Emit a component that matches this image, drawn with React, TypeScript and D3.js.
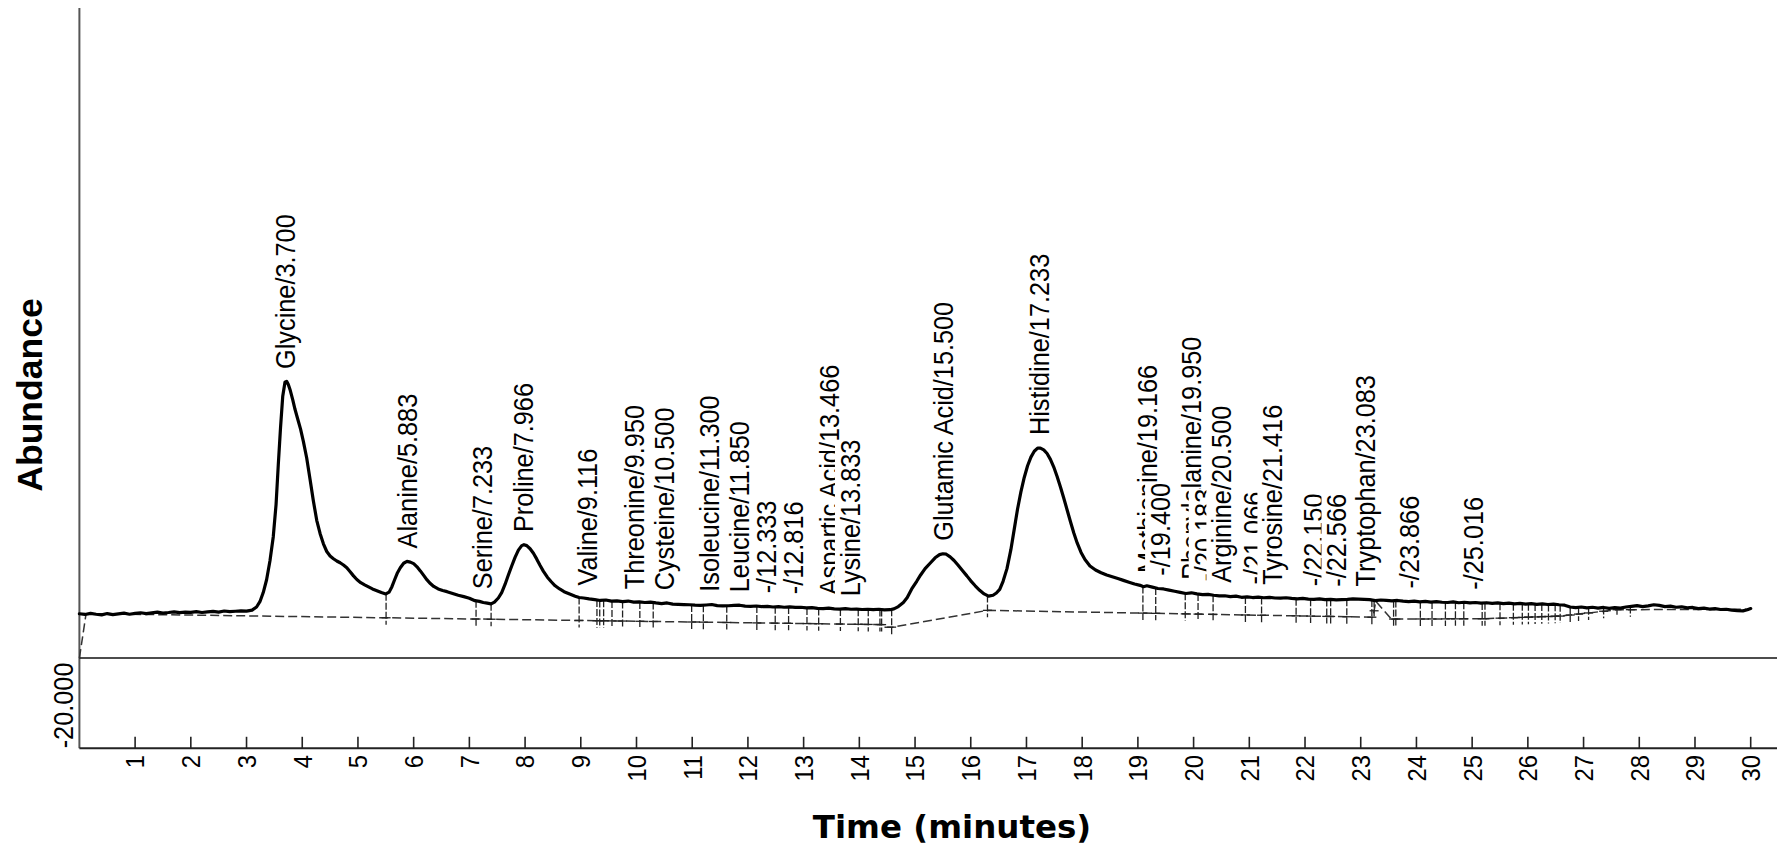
import React, { useEffect, useRef } from "react";
import * as d3 from "d3";

const WIDTH = 1779;
const HEIGHT = 860;

// Detector trace: retention time (min) and abundance
const retentionTime = [
  0.0, 0.1, 0.2, 0.3, 0.4, 0.5, 0.6, 0.7, 0.8, 0.9, 1.0, 1.1, 1.2, 1.3, 1.4, 1.5, 1.6, 1.7, 1.8, 1.9,
  2.0, 2.1, 2.2, 2.3, 2.4, 2.5, 2.6, 2.7, 2.8, 2.9, 3.0, 3.1,
  3.18, 3.24, 3.3, 3.36, 3.42, 3.48, 3.53, 3.57, 3.61, 3.65, 3.69, 3.72, 3.75, 3.78, 3.83, 3.87, 3.92, 3.97,
  4.02, 4.08, 4.14, 4.2, 4.26, 4.32, 4.38, 4.44, 4.5, 4.56, 4.62, 4.68, 4.74, 4.8, 4.86, 4.92, 4.98,
  5.05, 5.12, 5.19, 5.26, 5.34, 5.42, 5.5, 5.56, 5.61, 5.66, 5.71, 5.76, 5.82, 5.88, 5.94,
  6.0, 6.06, 6.12, 6.18, 6.24, 6.3, 6.36, 6.44, 6.52, 6.6, 6.7, 6.8, 6.9,
  7.0, 7.1, 7.18, 7.25, 7.32, 7.39, 7.45, 7.52, 7.58, 7.64, 7.7, 7.76, 7.82, 7.88, 7.94, 7.98,
  8.03, 8.09, 8.15, 8.21, 8.27, 8.33, 8.4, 8.47, 8.54, 8.62, 8.7, 8.8, 8.9, 8.97,
  9.05, 9.15, 9.25, 9.35, 9.45, 9.55, 9.65, 9.75, 9.85, 9.95,
  10.05, 10.15, 10.25, 10.35, 10.45, 10.55, 10.65, 10.75, 10.85, 10.95,
  11.05, 11.15, 11.25, 11.35, 11.45, 11.55, 11.65, 11.75, 11.85, 11.95,
  12.05, 12.15, 12.25, 12.35, 12.45, 12.55, 12.65, 12.75, 12.85, 12.95,
  13.05, 13.15, 13.25, 13.35, 13.45, 13.55, 13.65, 13.75, 13.85, 13.95,
  14.05, 14.15, 14.25, 14.35, 14.45, 14.55, 14.62, 14.7, 14.79, 14.86, 14.94,
  15.03, 15.1, 15.18, 15.27, 15.36, 15.44, 15.5, 15.56, 15.63, 15.7, 15.77, 15.85, 15.93,
  16.0, 16.08, 16.16, 16.24, 16.32, 16.4, 16.46, 16.52, 16.58, 16.65, 16.72, 16.78, 16.84, 16.9, 16.96,
  17.02, 17.08, 17.14, 17.2, 17.25, 17.31, 17.37, 17.43, 17.49, 17.55, 17.61, 17.67, 17.73, 17.79, 17.85, 17.91, 17.98,
  18.05, 18.14, 18.24, 18.34, 18.44, 18.54, 18.64, 18.74, 18.84, 18.94,
  19.04, 19.1, 19.16, 19.26, 19.36, 19.46, 19.56, 19.66, 19.76, 19.86, 19.96,
  20.06, 20.16, 20.26, 20.36, 20.46, 20.56, 20.66, 20.76, 20.86, 20.96,
  21.06, 21.16, 21.26, 21.36, 21.46, 21.56, 21.66, 21.76, 21.86, 21.96,
  22.06, 22.16, 22.26, 22.36, 22.46, 22.56, 22.66, 22.76, 22.86, 22.96,
  23.06, 23.16, 23.26, 23.36, 23.46, 23.56, 23.66, 23.76, 23.86, 23.96,
  24.06, 24.16, 24.26, 24.36, 24.46, 24.56, 24.66, 24.76, 24.86, 24.96,
  25.06, 25.16, 25.26, 25.36, 25.46, 25.56, 25.66, 25.76, 25.86, 25.96,
  26.06, 26.16, 26.26, 26.36, 26.46, 26.56, 26.66, 26.76, 26.86, 26.96,
  27.06, 27.16, 27.26, 27.36, 27.46, 27.56, 27.66, 27.76, 27.86, 27.96,
  28.06, 28.16, 28.26, 28.36, 28.46, 28.56, 28.66, 28.76, 28.86, 28.96,
  29.06, 29.16, 29.26, 29.36, 29.46, 29.56, 29.66, 29.76, 29.86, 29.94, 30.0,
];

const abundance = [
  9810, 9650, 9900, 9700, 9560, 9850, 9620, 9780, 9950, 9700, 9880, 10020, 9840, 9990, 10150, 9960, 10080, 10230, 10050, 10170,
  10110, 10260, 10090, 10210, 10330, 10180, 10420, 10270, 10360, 10450, 10400, 10600,
  11300, 12470, 14500, 17340, 21500, 26870, 34000, 42820, 51000, 58000, 61100, 61300, 60600, 59500, 57200, 55100, 52900, 50700,
  48000, 44300, 39600, 34800, 30500, 27600, 25300, 23600, 22600, 22000, 21500, 21100, 20600, 20000, 19100, 18200, 17400,
  16700, 16200, 15750, 15300, 14900, 14500, 14200, 14600, 15800, 17400, 18900, 20000, 21000, 21400, 21250,
  20900, 20200, 19300, 18300, 17300, 16500, 15850, 15300, 14950, 14700, 14300, 13900, 13600,
  13250, 12700, 12550, 12300, 12150, 12000, 12400, 13300, 14500, 16300, 18400, 20400, 22300, 23900, 24900, 25100,
  24900, 24200, 23200, 21900, 20500, 19200, 17900, 16900, 16000, 15300, 14700, 14200, 13700, 13400,
  13300, 13100, 12950, 12750, 12850, 12600, 12650, 12500, 12620, 12380,
  12450, 12300, 12380, 12200, 12050, 12200, 11950, 11900, 11850, 11800,
  11700, 11650, 11750, 11850, 11600, 11550, 11580, 11650, 11700, 11500,
  11450, 11520, 11400, 11450, 11300, 11380, 11250, 11320, 11200, 11250,
  11100, 11150, 11000, 10950, 11050, 10900, 10850, 10950, 10800, 10850,
  10750, 10800, 10700, 10800, 10650, 10700, 10900, 11400, 12300, 13400, 15300,
  17000, 18400, 19800, 21000, 22200, 22900, 23100, 23000, 22400, 21600, 20600, 19400, 18200,
  17100, 16000, 15000, 14200, 13700, 13900, 14400, 15200, 17000, 19800, 24000, 28500, 33000, 36800, 40000,
  42600, 44500, 45800, 46500, 46500, 46100, 45300, 44000, 42300, 40200, 37900, 35400, 32800, 30200, 27700, 25500, 23400,
  21800, 20400, 19500, 18900, 18400, 18000, 17600, 17200, 16800, 16400,
  16100, 15800, 16000, 15700, 15400, 15300, 15050, 14800, 14550, 14300, 14450,
  14200, 14050, 14100, 13900, 13750, 13800, 13600, 13700, 13450, 13550,
  13400, 13500, 13350, 13450, 13300, 13250, 13350, 13200, 13100, 13200,
  13050, 13000, 13100, 12950, 13000, 12900, 12950, 13000, 13100, 13050,
  13000, 12950, 12700, 12850, 12750, 12650, 12750, 12600, 12500, 12600,
  12450, 12550, 12400, 12500, 12350, 12300, 12450, 12250, 12350, 12200,
  12300, 12150, 12250, 12100, 12200, 12050, 12150, 12000, 12100, 11950,
  12050, 11900, 12000, 11850, 11950, 11800, 11700, 11300, 11150, 11300,
  11100, 11250, 11050, 11200, 11000, 11150, 11050, 11300, 11450, 11600,
  11400, 11550, 11800, 11650, 11400, 11500, 11250, 11350, 11100, 11200,
  10950, 11050, 10850, 10950, 10750, 10800, 10600, 10500, 10450, 10700, 10950,
];

// Integration baseline (dashed)
const baselineTime = [0.0, 0.12, 14.4, 14.42, 14.6, 16.3, 23.22, 23.27, 23.55, 25.2, 26.6, 27.6, 30.0];
const baselineAbundance = [0, 9830, 7400, 6840, 6840, 10560, 9040, 12600, 8630, 8700, 9300, 10700, 10800];

// Peak start / end markers
const markerTimes = [
  5.505, 7.12, 7.39, 8.97, 9.29, 9.34, 9.41, 9.56, 9.75, 10.06, 10.3, 10.99, 11.2, 11.62, 12.16, 12.49,
  12.73, 13.06, 13.27, 13.66, 13.98, 14.16, 14.37, 14.4, 14.58, 16.3, 19.09, 19.32, 19.85, 20.08, 20.35,
  20.93, 21.22, 21.84, 22.1, 22.39, 22.46, 22.75, 23.2, 23.24, 23.59, 23.63, 24.07, 24.28, 24.52, 24.7,
  24.85, 25.18, 25.23, 25.5, 25.74, 25.9, 26.01, 26.13, 26.25, 26.37, 26.49, 26.58, 26.76, 26.91, 27.09,
  27.36, 27.6, 27.84,
];

// Identified peaks
const peakNames = [
  "Glycine", "Alanine", "Serine", "Proline", "Valine", "Threonine", "Cysteine", "Isoleucine", "Leucine",
  "-", "-", "Aspartic Acid", "Lysine", "Glutamic Acid", "Histidine", "Methionine", "-", "Phenylalanine",
  "-", "Arginine", "-", "Tyrosine", "-", "-", "Tryptophan", "-", "-",
];
const peakTimes = [
  3.7, 5.883, 7.233, 7.966, 9.116, 9.95, 10.5, 11.3, 11.85, 12.333, 12.816, 13.466, 13.833, 15.5, 17.233,
  19.166, 19.4, 19.95, 20.183, 20.5, 21.066, 21.416, 22.15, 22.566, 23.083, 23.866, 25.016,
];

const xTickValues = [
  1, 2, 3, 4, 5, 6, 7, 8, 9, 10, 11, 12, 13, 14, 15, 16, 17, 18, 19, 20, 21, 22, 23, 24, 25, 26, 27, 28, 29, 30,
];
const yMinLabel = "-20.000";

const LEFT = 79.4;
const RIGHT = 1750.7;
const AXIS_RIGHT = 1777;
const TOP = 8;
const BOTTOM = 748.3;
const LABEL_FONT = "'Liberation Sans', Arial, sans-serif";
const NARROW = 0.92;

function interp(ts: number[], vs: number[], t: number): number {
  const i = d3.bisectRight(ts, t);
  if (i <= 0) return vs[0];
  if (i >= ts.length) return vs[vs.length - 1];
  const t0 = ts[i - 1], t1 = ts[i];
  const f = t1 === t0 ? 0 : (t - t0) / (t1 - t0);
  return vs[i - 1] + f * (vs[i] - vs[i - 1]);
}

export default function App() {
  const ref = useRef<SVGSVGElement | null>(null);

  useEffect(() => {
    const svg = d3.select(ref.current);
    svg.selectAll("*").remove();

    const x = d3.scaleLinear().domain([0, 30]).range([LEFT, RIGHT]);
    const y = d3.scaleLinear().domain([-20000, 144000]).range([BOTTOM, TOP]);

    // axes frame
    svg.append("line")
      .attr("x1", LEFT).attr("x2", LEFT).attr("y1", TOP).attr("y2", BOTTOM)
      .attr("stroke", "#555").attr("stroke-width", 2);
    svg.append("line")
      .attr("x1", LEFT).attr("x2", AXIS_RIGHT).attr("y1", BOTTOM).attr("y2", BOTTOM)
      .attr("stroke", "#222").attr("stroke-width", 2);
    svg.append("line")
      .attr("x1", LEFT).attr("x2", AXIS_RIGHT).attr("y1", y(0)).attr("y2", y(0))
      .attr("stroke", "#111").attr("stroke-width", 1.6);

    // x ticks
    const ticks = svg.append("g");
    xTickValues.forEach((v) => {
      ticks.append("line")
        .attr("x1", x(v)).attr("x2", x(v)).attr("y1", BOTTOM).attr("y2", BOTTOM - 11.5)
        .attr("stroke", "#222").attr("stroke-width", 1.6);
      ticks.append("text")
        .attr("transform", `translate(${x(v)},755) rotate(-90) scale(${NARROW},1)`)
        .attr("text-anchor", "end")
        .attr("dy", "0.36em")
        .attr("font-family", LABEL_FONT)
        .attr("font-size", 26)
        .attr("fill", "#000")
        .text(String(v));
    });

    // y minimum label
    svg.append("text")
      .attr("transform", `translate(73,${BOTTOM}) rotate(-90) scale(${NARROW},1)`)
      .attr("text-anchor", "start")
      .attr("font-family", LABEL_FONT)
      .attr("font-size", 27.5)
      .attr("fill", "#000")
      .text(yMinLabel);

    // axis titles
    svg.append("text")
      .attr("transform", `translate(41.5,395) rotate(-90)`)
      .attr("text-anchor", "middle")
      .attr("font-family", "'Liberation Sans', Arial, sans-serif")
      .attr("font-weight", "bold")
      .attr("font-size", 35.5)
      .attr("fill", "#000")
      .text("Abundance");
    svg.append("text")
      .attr("x", 952).attr("y", 838)
      .attr("text-anchor", "middle")
      .attr("font-family", "'DejaVu Sans', Verdana, sans-serif")
      .attr("font-weight", "bold")
      .attr("font-size", 32.5)
      .attr("fill", "#000")
      .text("Time (minutes)");

    // baseline
    const baseLine = d3.line<number>()
      .x((_, i) => x(baselineTime[i]))
      .y((d) => y(d));
    svg.append("path")
      .attr("d", baseLine(baselineAbundance))
      .attr("fill", "none")
      .attr("stroke", "#333")
      .attr("stroke-width", 1.5)
      .attr("stroke-dasharray", "9,4");

    // peak markers
    const markers = svg.append("g").attr("stroke", "#222").attr("stroke-width", 1.3);
    markerTimes.forEach((t) => {
      const top = y(interp(retentionTime, abundance, t));
      const base = y(interp(baselineTime, baselineAbundance, t));
      markers.append("line")
        .attr("x1", x(t)).attr("x2", x(t)).attr("y1", top).attr("y2", base + 7)
        .attr("stroke-dasharray", "7,2");
      markers.append("line")
        .attr("x1", x(t) - 4.5).attr("x2", x(t) + 4.5).attr("y1", base).attr("y2", base);
    });

    // trace
    const trace = d3.line<number>()
      .x((_, i) => x(retentionTime[i]))
      .y((d) => y(d));
    svg.append("path")
      .attr("d", trace(abundance))
      .attr("fill", "none")
      .attr("stroke", "#000")
      .attr("stroke-width", 3.2)
      .attr("stroke-linejoin", "round")
      .attr("stroke-linecap", "round");

    // peak labels, each on a white backing so later labels cover earlier ones
    peakTimes.forEach((t, i) => {
      const yb = y(interp(retentionTime, abundance, t)) - 13;
      const g = svg.append("g")
        .attr("transform", `translate(${x(t)},${yb}) rotate(-90) scale(${NARROW},1)`);
      const txt = g.append("text")
        .attr("text-anchor", "start")
        .attr("dy", "0.36em")
        .attr("font-family", LABEL_FONT)
        .attr("font-size", 27.5)
        .attr("fill", "#000")
        .text(`${peakNames[i]}/${t.toFixed(3)}`);
      const bb = (txt.node() as SVGTextElement).getBBox();
      g.insert("rect", "text")
        .attr("x", bb.x).attr("y", bb.y)
        .attr("width", bb.width).attr("height", bb.height)
        .attr("fill", "#fff");
    });
  }, []);

  return (
    <div style={{ position: "absolute", left: 0, top: 0 }}>
      <svg ref={ref} width={WIDTH} height={HEIGHT} style={{ display: "block", background: "#fff" }} />
    </div>
  );
}
